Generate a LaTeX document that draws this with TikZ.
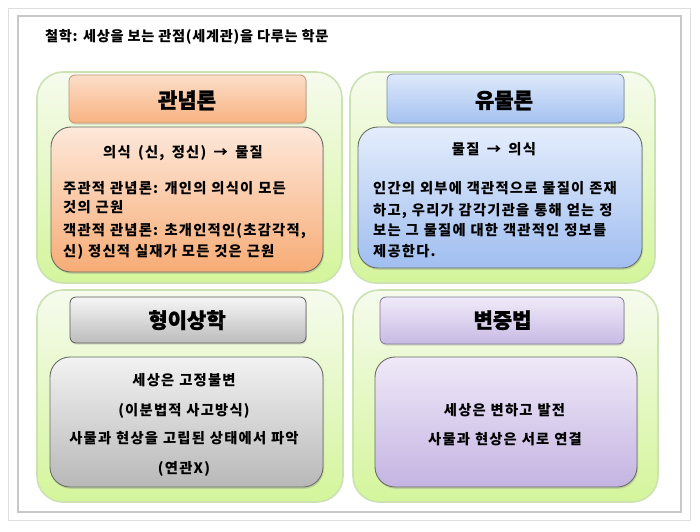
\documentclass[tikz,border=0pt]{standalone}
\usepackage{fontspec}
\setmainfont{Noto Sans CJK KR}
\newfontfamily\hdrfont{Noto Sans CJK KR}[BoldFeatures={FakeBold=1.2}]
\newfontfamily\bodyfont{Noto Sans CJK KR}[LetterSpace=8.5,WordSpace=1.1]
\newfontfamily\subfont{Noto Sans CJK KR}[LetterSpace=9,WordSpace=1.6]
\newfontfamily\titlefont{Noto Sans CJK KR}[LetterSpace=5,WordSpace=1.0]
\usetikzlibrary{shadows}
\definecolor{frameA}{RGB}{222,222,222}
\definecolor{frameB}{RGB}{200,200,200}
\definecolor{grTop}{RGB}{246,251,238}
\definecolor{grBot}{RGB}{212,245,155}
\definecolor{grLine}{RGB}{205,226,178}
\definecolor{orTop}{RGB}{252,222,202}
\definecolor{orBot}{RGB}{248,178,128}
\definecolor{orLine}{RGB}{190,150,120}
\definecolor{obTop}{RGB}{253,232,218}
\definecolor{obBot}{RGB}{247,172,118}
\definecolor{blTop}{RGB}{222,233,251}
\definecolor{blBot}{RGB}{164,194,240}
\definecolor{blLine}{RGB}{125,140,165}
\definecolor{bbTop}{RGB}{228,237,252}
\definecolor{bbBot}{RGB}{160,190,240}
\definecolor{gyTop}{RGB}{246,246,246}
\definecolor{gyBot}{RGB}{188,188,188}
\definecolor{gyLine}{RGB}{90,90,90}
\definecolor{gbTop}{RGB}{242,242,242}
\definecolor{gbBot}{RGB}{184,184,184}
\definecolor{puTop}{RGB}{241,234,249}
\definecolor{puBot}{RGB}{200,186,228}
\definecolor{puLine}{RGB}{130,120,150}
\definecolor{pbTop}{RGB}{240,233,248}
\definecolor{pbBot}{RGB}{196,180,226}
\definecolor{bodyLine}{RGB}{105,110,100}
\begin{document}
\begin{tikzpicture}[x=1pt,y=-1pt,
  greenbox/.style={draw=grLine, line width=1.6pt, rounded corners=26pt,
    top color=grTop, bottom color=grBot, inner sep=0pt},
  hdrbox/.style n args={3}{draw=#3, line width=0.8pt, rounded corners=6pt,
    top color=#1, bottom color=#2, inner sep=0pt,
    drop shadow={opacity=0.25, shadow xshift=0.8pt, shadow yshift=-1.5pt}},
  bodybox/.style n args={2}{draw=bodyLine, line width=0.9pt, rounded corners=20pt,
    top color=#1, bottom color=#2, inner sep=0pt,
    drop shadow={opacity=0.3, shadow xshift=1pt, shadow yshift=-1.8pt}},
  hdrtext/.style={font=\hdrfont\fontsize{21}{24}\selectfont\bfseries, anchor=base, inner sep=0pt},
  subtext/.style={font=\subfont\fontsize{14.3}{16}\selectfont\bfseries, anchor=base, inner sep=0pt},
  bodytext/.style={font=\bodyfont\fontsize{14.3}{16}\selectfont\bfseries, inner sep=0pt},
  framebox/.style={inner sep=0pt, fill=white}
]
\useasboundingbox (0,0) rectangle (700,531);
\fill[white] (0,0) rectangle (700,531);
% frames
\node[framebox, draw=frameA, line width=1pt, minimum width=682pt, minimum height=512pt] (outer) at (349,264) {};
\node[framebox, draw=frameB, line width=1.3pt, minimum width=663pt, minimum height=496pt] (inner) at (349.5,264) {};
% title
\node[font=\titlefont\fontsize{14.2}{16}\selectfont\bfseries, anchor=base west, inner sep=0pt] (title) at (45,41.5) {철학: 세상을 보는 관점(세계관)을 다루는 학문};
% green quadrants
\node[greenbox, minimum width=305pt, minimum height=211pt] (gTL) at (189.5,177.5) {};
\node[greenbox, minimum width=305pt, minimum height=211pt] (gTR) at (502.5,177.5) {};
\node[greenbox, minimum width=306pt, minimum height=212pt] (gBL) at (190,396) {};
\node[greenbox, minimum width=305pt, minimum height=212pt] (gBR) at (505.5,396) {};
% headers
\node[hdrbox={orTop}{orBot}{orLine}, minimum width=237pt, minimum height=48pt] (hTL) at (187.5,99) {};
\node[hdrbox={blTop}{blBot}{blLine}, minimum width=237pt, minimum height=49pt] (hTR) at (505.5,98.5) {};
\node[hdrbox={gyTop}{gyBot}{gyLine}, minimum width=236pt, minimum height=46pt] (hBL) at (188,320) {};
\node[hdrbox={puTop}{puBot}{puLine}, minimum width=244pt, minimum height=47pt] (hBR) at (502,320.5) {};
\node[hdrtext] (tTL) at (187,108) {관념론};
\node[hdrtext] (tTR) at (504,108) {유물론};
\node[hdrtext] (tBL) at (187,328) {형이상학};
\node[hdrtext] (tBR) at (502.5,328) {변증법};
% bodies
\node[bodybox={obTop}{obBot}, minimum width=272pt, minimum height=145pt] (bTL) at (187,199.5) {};
\node[bodybox={bbTop}{bbBot}, minimum width=284pt, minimum height=141pt] (bTR) at (500,197.5) {};
\node[bodybox={gbTop}{gbBot}, minimum width=273pt, minimum height=130pt] (bBL) at (186.5,422) {};
\node[bodybox={pbTop}{pbBot}, minimum width=262pt, minimum height=130pt] (bBR) at (506,422) {};
% TL text
\node[subtext] (sTL) at (183,157.5) {의식 (신, 정신) → 물질};
\node[bodytext, anchor=base west] (l1TL) at (63,193.5) {주관적 관념론: 개인의 의식이 모든};
\node[bodytext, anchor=base west] (l2TL) at (63,212.5) {것의 근원};
\node[bodytext, anchor=base west] (l3TL) at (63,235.5) {객관적 관념론: 초개인적인(초감각적,};
\node[bodytext, anchor=base west] (l4TL) at (63,256) {신) 정신적 실재가 모든 것은 근원};
% TR text
\node[subtext] (sTR) at (494,154.5) {물질 → 의식};
\node[bodytext, anchor=base west] (l1TR) at (373,193.5) {인간의 외부에 객관적으로 물질이 존재};
\node[bodytext, anchor=base west] (l2TR) at (373,215.5) {하고, 우리가 감각기관을 통해 얻는 정};
\node[bodytext, anchor=base west] (l3TR) at (373,235.5) {보는 그 물질에 대한 객관적인 정보를};
\node[bodytext, anchor=base west] (l4TR) at (373,256.5) {제공한다.};
% BL text
\node[bodytext, anchor=base] (l1BL) at (184,385.5) {세상은 고정불변};
\node[bodytext, anchor=base] (l2BL) at (184,415.5) {(이분법적 사고방식)};
\node[bodytext, anchor=base] (l3BL) at (184,443.5) {사물과 현상을 고립된 상태에서 파악};
\node[bodytext, anchor=base] (l4BL) at (184,473.5) {(연관X)};
% BR text
\node[bodytext, anchor=base] (l1BR) at (504.5,415.5) {세상은 변하고 발전};
\node[bodytext, anchor=base] (l2BR) at (505,444.5) {사물과 현상은 서로 연결};
\end{tikzpicture}
\end{document}
